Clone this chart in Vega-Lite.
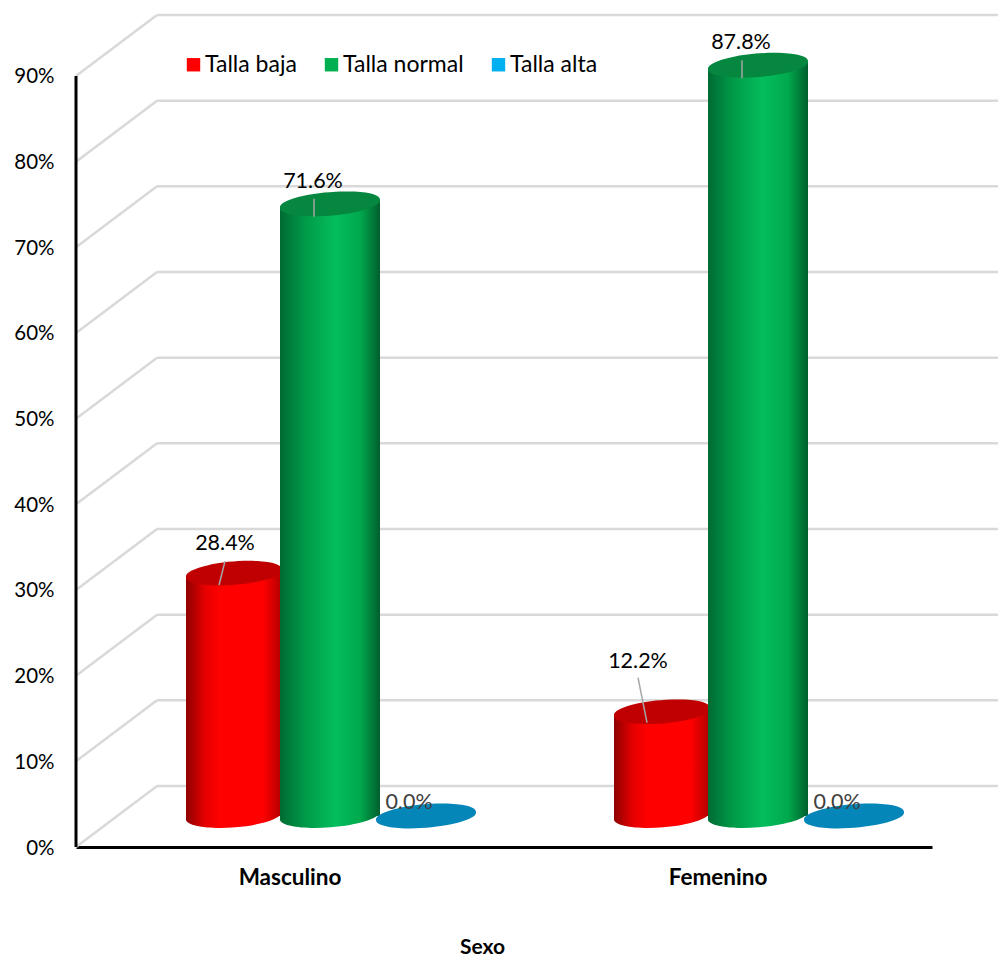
{
  "$schema": "https://vega.github.io/schema/vega-lite/v6.json",
  "width": 922,
  "height": 832,
  "autosize": "none",
  "padding": {"left": 76, "top": 15, "right": 0, "bottom": 109},
  "background": "white",
  "config": {"font": "Lato", "view": {"stroke": null}},
  "datasets": {
    "barras": [
      {"sexo": "Masculino", "talla": "Talla baja", "valor": 28.4, "etiqueta": "28.4%"},
      {"sexo": "Masculino", "talla": "Talla normal", "valor": 71.6, "etiqueta": "71.6%"},
      {"sexo": "Masculino", "talla": "Talla alta", "valor": 0.0, "etiqueta": "0.0%"},
      {"sexo": "Femenino", "talla": "Talla baja", "valor": 12.2, "etiqueta": "12.2%"},
      {"sexo": "Femenino", "talla": "Talla normal", "valor": 87.8, "etiqueta": "87.8%"},
      {"sexo": "Femenino", "talla": "Talla alta", "valor": 0.0, "etiqueta": "0.0%"}
    ],
    "niveles": [
      {"pct": 0, "pared": 7.12},
      {"pct": 10, "pared": 17.12},
      {"pct": 20, "pared": 27.12},
      {"pct": 30, "pared": 37.12},
      {"pct": 40, "pared": 47.12},
      {"pct": 50, "pared": 57.12},
      {"pct": 60, "pared": 67.12},
      {"pct": 70, "pared": 77.12},
      {"pct": 80, "pared": 87.12},
      {"pct": 90, "pared": 97.12}
    ]
  },
  "resolve": {"scale": {"x": "independent", "y": "independent"}},
  "layer": [
    {
      "description": "Pared de fondo en perspectiva y eje de porcentajes",
      "data": {"name": "niveles"},
      "layer": [
        {
          "mark": {"type": "rule", "stroke": "#d9d9d9", "strokeWidth": 2.5},
          "encoding": {
            "x": {"datum": 0, "type": "quantitative", "scale": {"domain": [0, 1]}, "axis": null},
            "x2": {"datum": 0.0879},
            "y": {
              "field": "pct",
              "type": "quantitative",
              "scale": {"domain": [0, 97.12], "nice": false},
              "axis": {
                "title": null,
                "orient": "left",
                "values": [0, 10, 20, 30, 40, 50, 60, 70, 80, 90],
                "labelExpr": "datum.value + '%'",
                "labelFontSize": 20.5,
                "labelColor": "#000000",
                "labelPadding": 22,
                "labelOffset": 1,
                "ticks": false,
                "domain": false,
                "grid": false
              }
            },
            "y2": {"field": "pared"}
          }
        },
        {
          "mark": {"type": "rule", "stroke": "#d9d9d9", "strokeWidth": 2.5},
          "encoding": {
            "x": {"datum": 0.0879, "type": "quantitative"},
            "x2": {"datum": 1},
            "y": {"field": "pared", "type": "quantitative"}
          }
        },
        {
          "data": {"values": [{"inicio": 0, "fin": 90}]},
          "mark": {"type": "rule", "stroke": "#000000", "strokeWidth": 3},
          "encoding": {
            "x": {"datum": 0, "type": "quantitative"},
            "y": {"field": "inicio", "type": "quantitative"},
            "y2": {"field": "fin"}
          }
        }
      ]
    },
    {
      "description": "Cilindros por sexo y talla",
      "data": {"name": "barras"},
      "encoding": {
        "x": {
          "field": "sexo",
          "type": "nominal",
          "sort": ["Masculino", "Femenino"],
          "scale": {"type": "band", "domain": ["Masculino", "Femenino"], "range": [0, 856], "paddingInner": 0, "paddingOuter": 0},
          "axis": {
            "title": "Sexo",
            "orient": "bottom",
            "titleFontSize": 21,
            "titleFontWeight": "bold",
            "titleColor": "#000000",
            "titleX": 406,
            "titleY": 100,
            "titleBaseline": "middle",
            "labelAngle": 0,
            "labelFontSize": 22.5,
            "labelFontWeight": "bold",
            "labelColor": "#000000",
            "labelPadding": 19,
            "ticks": false,
            "grid": false,
            "domainColor": "#000000",
            "domainWidth": 3
          }
        },
        "xOffset": {
          "field": "talla",
          "type": "nominal",
          "sort": ["Talla baja", "Talla normal", "Talla alta"],
          "scale": {"type": "band", "domain": ["Talla baja", "Talla normal", "Talla alta"], "range": [110, 398], "paddingInner": 0, "paddingOuter": 0}
        },
        "y": {
          "field": "valor",
          "type": "quantitative",
          "scale": {"domain": [-3.626, 93.68], "nice": false, "zero": false},
          "axis": null
        }
      },
      "layer": [
        {
          "description": "Capa sin pintura que aporta la leyenda",
          "mark": {"type": "bar", "opacity": 0},
          "encoding": {
            "fill": {
              "field": "talla",
              "type": "nominal",
              "scale": {"domain": ["Talla baja", "Talla normal", "Talla alta"], "range": ["#ff0000", "#00b050", "#00b0f0"]},
              "legend": {
                "title": null,
                "orient": "none",
                "direction": "horizontal",
                "legendX": 106,
                "legendY": 38,
                "columns": 3,
                "padding": 0,
                "columnPadding": 23,
                "symbolType": "square",
                "symbolSize": 180,
                "symbolOpacity": 1,
                "symbolStrokeWidth": 0,
                "labelFontSize": 23,
                "labelColor": "#000000",
                "labelOffset": 0
              }
            }
          }
        },
        {
          "description": "Base y laterales del cilindro rojo",
          "transform": [{"filter": "datum.talla === 'Talla baja'"}],
          "mark": {
            "type": "point", "filled": true, "opacity": 1, "size": 4,
            "shape": "M -48 -10 L -48 4 A 48.2 11.8 -4.6 0 0 48 -4 L 48 -10 Z",
            "fill": {"x1": 0, "x2": 1, "y1": 0, "y2": 0, "gradient": "linear", "stops": [
              {"offset": 0, "color": "#8f0000"}, {"offset": 0.2, "color": "#e60000"}, {"offset": 0.35, "color": "#ff0000"}, {"offset": 0.8, "color": "#ff0000"}, {"offset": 1, "color": "#b00000"}
            ]}
          },
          "encoding": {"y": {"datum": 0, "type": "quantitative"}}
        },
        {
          "transform": [{"filter": "datum.talla === 'Talla baja'"}],
          "mark": {
            "type": "bar", "width": 96, "cornerRadiusTopLeft": 6,
            "fill": {"x1": 0, "x2": 1, "y1": 0, "y2": 0, "gradient": "linear", "stops": [
              {"offset": 0, "color": "#8f0000"}, {"offset": 0.2, "color": "#e60000"}, {"offset": 0.35, "color": "#ff0000"}, {"offset": 0.8, "color": "#ff0000"}, {"offset": 1, "color": "#b00000"}
            ]}
          }
        },
        {
          "transform": [{"filter": "datum.talla === 'Talla baja'"}],
          "mark": {
            "type": "point", "filled": true, "opacity": 1, "size": 4,
            "shape": "M -48 4 L -48 10 L 48 10 L 48 -4 Z",
            "fill": {"x1": 0, "x2": 1, "y1": 0, "y2": 0, "gradient": "linear", "stops": [
              {"offset": 0, "color": "#8f0000"}, {"offset": 0.2, "color": "#e60000"}, {"offset": 0.35, "color": "#ff0000"}, {"offset": 0.8, "color": "#ff0000"}, {"offset": 1, "color": "#b00000"}
            ]}
          }
        },
        {
          "transform": [{"filter": "datum.talla === 'Talla baja'"}],
          "mark": {
            "type": "point", "filled": true, "opacity": 1, "size": 4, "fill": "#c00000",
            "shape": "M -48 4 A 48.2 11.3 -4.6 1 1 48 -4 A 48.2 11.3 -4.6 1 1 -48 4 Z"
          }
        },
        {
          "description": "Base y laterales del cilindro verde",
          "transform": [{"filter": "datum.talla === 'Talla normal'"}],
          "mark": {
            "type": "point", "filled": true, "opacity": 1, "size": 4,
            "shape": "M -50 -10 L -50 4 A 50.2 11.8 -4.6 0 0 50 -4 L 50 -10 Z",
            "fill": {"x1": 0, "x2": 1, "y1": 0, "y2": 0, "gradient": "linear", "stops": [
              {"offset": 0, "color": "#006b33"}, {"offset": 0.25, "color": "#009a48"}, {"offset": 0.55, "color": "#04bd5c"}, {"offset": 0.8, "color": "#00a94d"}, {"offset": 1, "color": "#005f2d"}
            ]}
          },
          "encoding": {"y": {"datum": 0, "type": "quantitative"}}
        },
        {
          "transform": [{"filter": "datum.talla === 'Talla normal'"}],
          "mark": {
            "type": "bar", "width": 100, "cornerRadiusTopLeft": 6,
            "fill": {"x1": 0, "x2": 1, "y1": 0, "y2": 0, "gradient": "linear", "stops": [
              {"offset": 0, "color": "#006b33"}, {"offset": 0.25, "color": "#009a48"}, {"offset": 0.55, "color": "#04bd5c"}, {"offset": 0.8, "color": "#00a94d"}, {"offset": 1, "color": "#005f2d"}
            ]}
          }
        },
        {
          "transform": [{"filter": "datum.talla === 'Talla normal'"}],
          "mark": {
            "type": "point", "filled": true, "opacity": 1, "size": 4,
            "shape": "M -50 4 L -50 10 L 50 10 L 50 -4 Z",
            "fill": {"x1": 0, "x2": 1, "y1": 0, "y2": 0, "gradient": "linear", "stops": [
              {"offset": 0, "color": "#006b33"}, {"offset": 0.25, "color": "#009a48"}, {"offset": 0.55, "color": "#04bd5c"}, {"offset": 0.8, "color": "#00a94d"}, {"offset": 1, "color": "#005f2d"}
            ]}
          }
        },
        {
          "transform": [{"filter": "datum.talla === 'Talla normal'"}],
          "mark": {
            "type": "point", "filled": true, "opacity": 1, "size": 4, "fill": "#06873f",
            "shape": "M -50 4 A 50.2 11.3 -4.6 1 1 50 -4 A 50.2 11.3 -4.6 1 1 -50 4 Z"
          }
        },
        {
          "transform": [{"filter": "datum.talla === 'Talla alta'"}],
          "mark": {
            "type": "point", "filled": true, "opacity": 1, "size": 4, "fill": "#0586b8",
            "shape": "M -50 4 A 50.2 11.3 -4.6 1 1 50 -4 A 50.2 11.3 -4.6 1 1 -50 4 Z"
          }
        },
        {
          "description": "Guías de las etiquetas",
          "transform": [{"filter": "datum.talla === 'Talla baja' && datum.sexo === 'Masculino'"}],
          "mark": {"type": "point", "filled": false, "opacity": 1, "size": 4, "stroke": "#a6a6a6", "strokeWidth": 1.5, "shape": "M -9 -12 L -15 12"}
        },
        {
          "transform": [{"filter": "datum.talla === 'Talla baja' && datum.sexo === 'Femenino'"}],
          "mark": {"type": "point", "filled": false, "opacity": 1, "size": 4, "stroke": "#a6a6a6", "strokeWidth": 1.5, "shape": "M -24 -34 L -15 11"}
        },
        {
          "transform": [{"filter": "datum.talla === 'Talla normal'"}],
          "mark": {"type": "point", "filled": false, "opacity": 1, "size": 4, "stroke": "#a6a6a6", "strokeWidth": 1.5, "shape": "M -16 -5 L -16 13"}
        },
        {
          "description": "Etiquetas de valor",
          "transform": [{"filter": "datum.talla === 'Talla baja' && datum.sexo === 'Masculino'"}],
          "mark": {"type": "text", "fontSize": 21.5, "color": "#000000", "dx": -9, "dy": -29},
          "encoding": {"text": {"field": "etiqueta", "type": "nominal"}}
        },
        {
          "transform": [{"filter": "datum.talla === 'Talla baja' && datum.sexo === 'Femenino'"}],
          "mark": {"type": "text", "fontSize": 21.5, "color": "#000000", "dx": -24, "dy": -50},
          "encoding": {"text": {"field": "etiqueta", "type": "nominal"}}
        },
        {
          "transform": [{"filter": "datum.talla === 'Talla normal'"}],
          "mark": {"type": "text", "fontSize": 21.5, "color": "#000000", "dx": -17, "dy": -22},
          "encoding": {"text": {"field": "etiqueta", "type": "nominal"}}
        },
        {
          "transform": [{"filter": "datum.talla === 'Talla alta'"}],
          "mark": {"type": "text", "fontSize": 21.5, "color": "#404040", "dx": -17, "dy": -13},
          "encoding": {"text": {"field": "etiqueta", "type": "nominal"}}
        }
      ]
    }
  ]
}
